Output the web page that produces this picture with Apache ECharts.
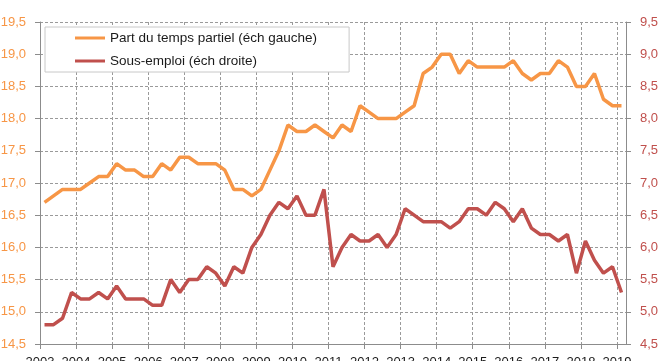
<!DOCTYPE html>
<html>
<head>
<meta charset="utf-8">
<script src="https://cdn.jsdelivr.net/npm/echarts@6/dist/echarts.min.js"></script>
<style>
  html, body { margin: 0; padding: 0; background: #fff; }
  #chart { width: 663px; height: 361px; }
</style>
</head>
<body>
<div id="chart"></div>
<script>
// quarterly, 2003 T1 -> 2019 T1
const years = ['2003', '2004', '2005', '2006', '2007', '2008', '2009', '2010', '2011',
  '2012', '2013', '2014', '2015', '2016', '2017', '2018', '2019']

const tempsPartiel = [
  16.7, 16.8, 16.9, 16.9,
  16.9, 17.0, 17.1, 17.1,
  17.3, 17.2, 17.2, 17.1,
  17.1, 17.3, 17.2, 17.4,
  17.4, 17.3, 17.3, 17.3,
  17.2, 16.9, 16.9, 16.8,
  16.9, 17.2, 17.5, 17.9,
  17.8, 17.8, 17.9, 17.8,
  17.7, 17.9, 17.8, 18.2,
  18.1, 18.0, 18.0, 18.0,
  18.1, 18.2, 18.7, 18.8,
  19.0, 19.0, 18.7, 18.9,
  18.8, 18.8, 18.8, 18.8,
  18.9, 18.7, 18.6, 18.7,
  18.7, 18.9, 18.8, 18.5,
  18.5, 18.7, 18.3, 18.2,
  18.2
]

const sousEmploi = [
  4.8, 4.8, 4.9, 5.3,
  5.2, 5.2, 5.3, 5.2,
  5.4, 5.2, 5.2, 5.2,
  5.1, 5.1, 5.5, 5.3,
  5.5, 5.5, 5.7, 5.6,
  5.4, 5.7, 5.6, 6.0,
  6.2, 6.5, 6.7, 6.6,
  6.8, 6.5, 6.5, 6.9,
  5.7, 6.0, 6.2, 6.1,
  6.1, 6.2, 6.0, 6.2,
  6.6, 6.5, 6.4, 6.4,
  6.4, 6.3, 6.4, 6.6,
  6.6, 6.5, 6.7, 6.6,
  6.4, 6.6, 6.3, 6.2,
  6.2, 6.1, 6.2, 5.6,
  6.1, 5.8, 5.6, 5.7,
  5.3
]

const orange = '#f79646'
const red = '#c0504d'
const gridColor = '#9a9a9a'
const axisColor = '#8c8c8c'
const font = 'Liberation Sans, Arial, sans-serif'

// x = quarter index centred in its slot, ticks every 4 quarters
const toPoints = (arr) => arr.map((v, i) => [i + 0.5, v])

const fmt = (v) => v.toFixed(1).replace('.', ',')

const chart = echarts.init(document.getElementById('chart'))

chart.setOption({
  animation: false,
  grid: { left: 40, right: 37, top: 22, bottom: 17, outerBoundsMode: 'none' },
  legend: {
    left: 45,
    top: 27,
    orient: 'vertical',
    backgroundColor: '#fff',
    borderColor: '#c8c8c8',
    borderWidth: 1,
    padding: [4, 32, 4, 30],
    itemGap: 9,
    itemWidth: 30,
    itemHeight: 3,
    icon: 'rect',
    textStyle: { fontFamily: font, fontSize: 13.5, color: '#1a1a1a' },
    data: ['Part du temps partiel (éch gauche)', 'Sous-emploi (éch droite)'],
  },
  xAxis: {
    type: 'value',
    min: 0,
    max: 65,
    interval: 4,
    axisLine: { show: true, lineStyle: { color: axisColor } },
    axisTick: { show: true, length: 5, lineStyle: { color: axisColor } },
    axisLabel: {
      fontFamily: font,
      fontSize: 13,
      color: '#1a1a1a',
      margin: 12,
      showMaxLabel: false,
      formatter: (v) => (v % 4 === 0 ? years[v / 4] || '' : ''),
    },
    splitLine: { show: true, lineStyle: { color: gridColor, type: [3, 2] } },
  },
  yAxis: [
    {
      type: 'value',
      min: 14.5,
      max: 19.5,
      interval: 0.5,
      position: 'left',
      axisLine: { show: true, lineStyle: { color: axisColor } },
      axisTick: { show: true, length: 5, lineStyle: { color: axisColor } },
      axisLabel: { fontFamily: font, fontSize: 13, color: orange, margin: 14, formatter: fmt },
      splitLine: { show: true, lineStyle: { color: gridColor, type: [3, 2] } },
    },
    {
      type: 'value',
      min: 4.5,
      max: 9.5,
      interval: 0.5,
      position: 'right',
      axisLine: { show: true, lineStyle: { color: axisColor } },
      axisTick: { show: true, length: 5, lineStyle: { color: axisColor } },
      axisLabel: { fontFamily: font, fontSize: 13, color: red, margin: 14, formatter: fmt },
      splitLine: { show: false },
    },
  ],
  series: [
    {
      name: 'Part du temps partiel (éch gauche)',
      type: 'line',
      yAxisIndex: 0,
      data: toPoints(tempsPartiel),
      symbol: 'none',
      lineStyle: { color: orange, width: 3.5 },
      itemStyle: { color: orange },
    },
    {
      name: 'Sous-emploi (éch droite)',
      type: 'line',
      yAxisIndex: 1,
      data: toPoints(sousEmploi),
      symbol: 'none',
      lineStyle: { color: red, width: 3.5 },
      itemStyle: { color: red },
    },
  ],
})
</script>
</body>
</html>
